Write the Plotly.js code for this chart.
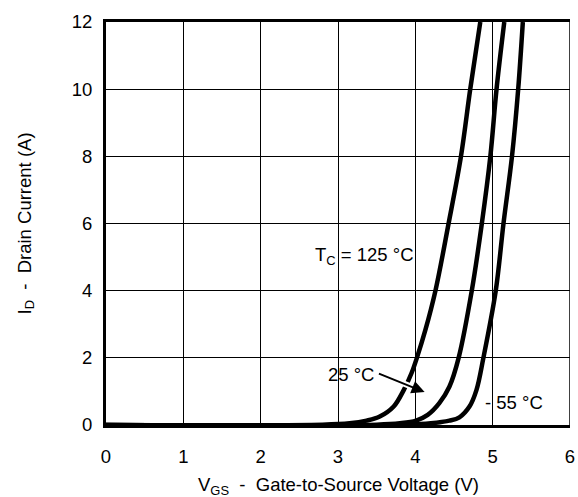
<!DOCTYPE html>
<html>
<head>
<meta charset="utf-8">
<script src="https://cdn.plot.ly/plotly-3.0.1.min.js"></script>
<style>html,body{margin:0;padding:0;background:#fff;}#chart{width:578px;height:497px;}</style>
</head>
<body>
<div id="chart"></div>
<script>
// Transfer characteristics: I_D vs V_GS at three case temperatures
const vgs125 = [0, 2.8, 3.15, 3.37, 3.54, 3.72, 3.85, 3.95, 4.02, 4.13, 4.26, 4.43, 4.59, 4.71, 4.84];
const id125  = [0, 0.01, 0.05, 0.13, 0.25, 0.55, 1.04, 1.54, 2, 2.83, 4, 6, 8, 10, 12];
const vgs25  = [0, 3.5, 3.8, 4.01, 4.16, 4.31, 4.44, 4.56, 4.73, 4.86, 4.97, 5.05, 5.15];
const id25   = [0, 0.01, 0.05, 0.13, 0.3, 0.65, 1.14, 2, 4, 6, 8, 10, 12];
const vgsm55 = [0, 3.9, 4.2, 4.44, 4.57, 4.70, 4.79, 4.88, 5.04, 5.14, 5.25, 5.33, 5.39];
const idm55  = [0, 0.01, 0.05, 0.13, 0.23, 0.55, 1.04, 2, 4, 6, 8, 10, 12];
const xTicks = [0, 1, 2, 3, 4, 5, 6];
const yTicks = [0, 2, 4, 6, 8, 10, 12];

const FONT = "Liberation Sans, Arial, Helvetica, sans-serif";
const FS = 18.5;
const lineStyle = {color: "#000", width: 4.5, shape: "spline", smoothing: 1};

const traces = [
  {x: vgs125, y: id125, mode: "lines", line: lineStyle, name: "125 °C", hoverinfo: "skip"},
  {x: vgs25, y: id25, mode: "lines", line: lineStyle, name: "25 °C", hoverinfo: "skip"},
  {x: vgsm55, y: idm55, mode: "lines", line: lineStyle, name: "-55 °C", hoverinfo: "skip"}
];

const layout = {
  width: 578, height: 497,
  margin: {l: 106, r: 8, t: 22, b: 72},
  paper_bgcolor: "#fff", plot_bgcolor: "#fff",
  showlegend: false,
  font: {family: FONT, size: FS, color: "#000"},
  xaxis: {
    range: [0, 6], tickvals: xTicks, ticktext: xTicks.map(String),
    showgrid: true, gridcolor: "#000", gridwidth: 1,
    showline: true, linecolor: "#000", linewidth: 3, mirror: true,
    zeroline: false, ticks: "", ticklabelstandoff: 13,
    tickfont: {family: FONT, size: FS, color: "#000"}
  },
  yaxis: {
    range: [0, 12], tickvals: yTicks, ticktext: yTicks.map(String),
    showgrid: true, gridcolor: "#000", gridwidth: 1,
    showline: true, linecolor: "#000", linewidth: 3,
    zeroline: false, ticks: "", ticklabelstandoff: 7,
    tickfont: {family: FONT, size: FS, color: "#000"}
  },
  shapes: [
    {type: "line", xref: "x", yref: "y", x0: 6, x1: 6, y0: 0, y1: 12, line: {color: "#000", width: 1.5}}
  ],
  annotations: [
    {xref: "paper", yref: "paper", x: 0.5, y: 0, yshift: -61, yanchor: "middle", showarrow: false,
     text: "V<sub>GS</sub>\u00a0 -\u00a0 Gate-to-Source Voltage (V)", font: {family: FONT, size: FS, color: "#000"}},
    {xref: "paper", yref: "paper", x: 0, xshift: -81, y: 0.5, xanchor: "center", showarrow: false, textangle: -90,
     text: "I<sub>D</sub>\u00a0 -\u00a0 Drain Current (A)", font: {family: FONT, size: FS, color: "#000"}},
    {xref: "x", yref: "y", x: 3.34, y: 5.03, showarrow: false,
     text: "T<sub>C</sub> = 125 °C", font: {family: FONT, size: FS, color: "#000"}},
    {xref: "x", yref: "y", x: 3.17, y: 1.49, showarrow: false,
     text: "25 °C", font: {family: FONT, size: FS, color: "#000"}},
    {xref: "x", yref: "y", x: 4.12, y: 0.98, axref: "x", ayref: "y", ax: 3.51, ay: 1.55,
     text: "", showarrow: true, arrowhead: 0, arrowwidth: 6, arrowcolor: "#fff", standoff: 6, startstandoff: 0},
    {xref: "x", yref: "y", x: 4.12, y: 0.98, axref: "x", ayref: "y", ax: 3.51, ay: 1.55,
     text: "", showarrow: true, arrowhead: 2, arrowsize: 1.3, arrowwidth: 2, arrowcolor: "#000"},
    {xref: "x", yref: "y", x: 5.27, y: 0.68, showarrow: false,
     text: "- 55 °C", font: {family: FONT, size: FS, color: "#000"}}
  ]
};

Plotly.newPlot("chart", traces, layout, {staticPlot: true, displayModeBar: false});
</script>
</body>
</html>
